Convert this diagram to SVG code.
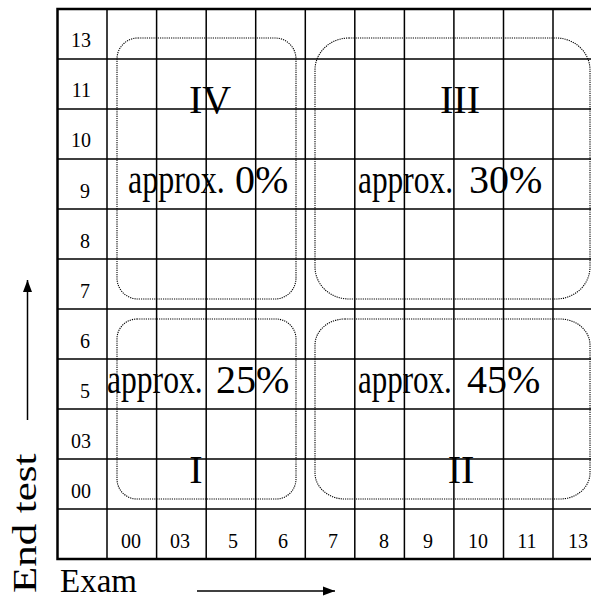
<svg xmlns="http://www.w3.org/2000/svg" width="591" height="599" viewBox="0 0 591 599">
<defs>
<style>
.g{stroke:#000;stroke-width:1.5;fill:none}
.b{stroke:#000;stroke-width:2.5;fill:none}
.d{stroke:#000;stroke-width:1.1;fill:none;stroke-dasharray:1.2 1}
.t{font-family:"Liberation Serif","Times New Roman",serif;fill:#000}
.s{font-size:20px}
.r{font-size:40px;text-anchor:middle}
.p{font-size:40px}
.a{font-size:33px}
</style>
<marker id="ah" viewBox="0 0 12 10" refX="12" refY="5" markerWidth="12" markerHeight="10" markerUnits="userSpaceOnUse" orient="auto">
<path d="M0,0.5 L12,5 L0,9.5 Z" fill="#000"/>
</marker>
</defs>
<rect width="591" height="599" fill="#fff"/>
<g id="grid">
<path class="g" d="M57.5,59H603M57.5,109H603M57.5,159H603M57.5,209H603M57.5,259H603M57.5,309H603M57.5,359H603M57.5,409H603M57.5,459H603M57.5,509H603"/>
<path class="g" d="M107,9V559M156.6,9V559M206.2,9V559M255.7,9V559M305.3,9V559M354.8,9V559M404.4,9V559M453.9,9V559M503.5,9V559M553,9V559"/>
<path class="b" d="M603,9H57.5V559H603"/>
</g>
<g id="regions">
<g id="IV"><rect class="d" x="117" y="38" width="179" height="261" rx="21" ry="21"/>
<text class="t r" x="210" y="113">IV</text>
<text class="t p" transform="translate(128,193) scale(0.8,1)">approx.</text>
<text class="t p" x="235" y="193">0%</text></g>
<g id="III"><rect class="d" x="315" y="38" width="275" height="261" rx="34" ry="32"/>
<text class="t r" x="460" y="113">III</text>
<text class="t p" transform="translate(358,193) scale(0.785,1)">approx.</text>
<text class="t p" x="469" y="193">30%</text></g>
<g id="I"><rect class="d" x="117" y="319" width="179" height="180" rx="20" ry="20"/>
<text class="t r" x="196" y="483">I</text>
<text class="t p" transform="translate(107,393) scale(0.79,1)">approx.</text>
<text class="t p" x="216" y="393">25%</text></g>
<g id="II"><rect class="d" x="315" y="319" width="275" height="180" rx="30" ry="26"/>
<text class="t r" x="461" y="483">II</text>
<text class="t p" transform="translate(358,393) scale(0.775,1)">approx.</text>
<text class="t p" x="467" y="393">45%</text></g>
</g>
<g id="ylabels" class="t s" text-anchor="end">
<text x="91" y="47">13</text>
<text x="91" y="97">11</text>
<text x="91" y="147">10</text>
<text x="90" y="198">9</text>
<text x="90" y="248">8</text>
<text x="90" y="298">7</text>
<text x="90" y="348">6</text>
<text x="90" y="398">5</text>
<text x="91" y="448">03</text>
<text x="91" y="498">00</text>
</g>
<g id="xlabels" class="t s" text-anchor="middle">
<text x="131" y="548">00</text>
<text x="180" y="548">03</text>
<text x="233" y="548">5</text>
<text x="283" y="548">6</text>
<text x="333" y="548">7</text>
<text x="384" y="548">8</text>
<text x="428" y="548">9</text>
<text x="478" y="548">10</text>
<text x="527" y="548">11</text>
<text x="578" y="548">13</text>
</g>
<g id="axes">
<text class="t a" transform="translate(36,593) rotate(-90) scale(1.3,1)">End test</text>
<text class="t a" x="60" y="592">Exam</text>
</g>
<g id="connectors">
<line x1="27.5" y1="420" x2="27.5" y2="280" stroke="#000" stroke-width="1.5" marker-end="url(#ah)"/>
<line x1="197" y1="591" x2="335" y2="591" stroke="#000" stroke-width="1.5" marker-end="url(#ah)"/>
</g>
</svg>
